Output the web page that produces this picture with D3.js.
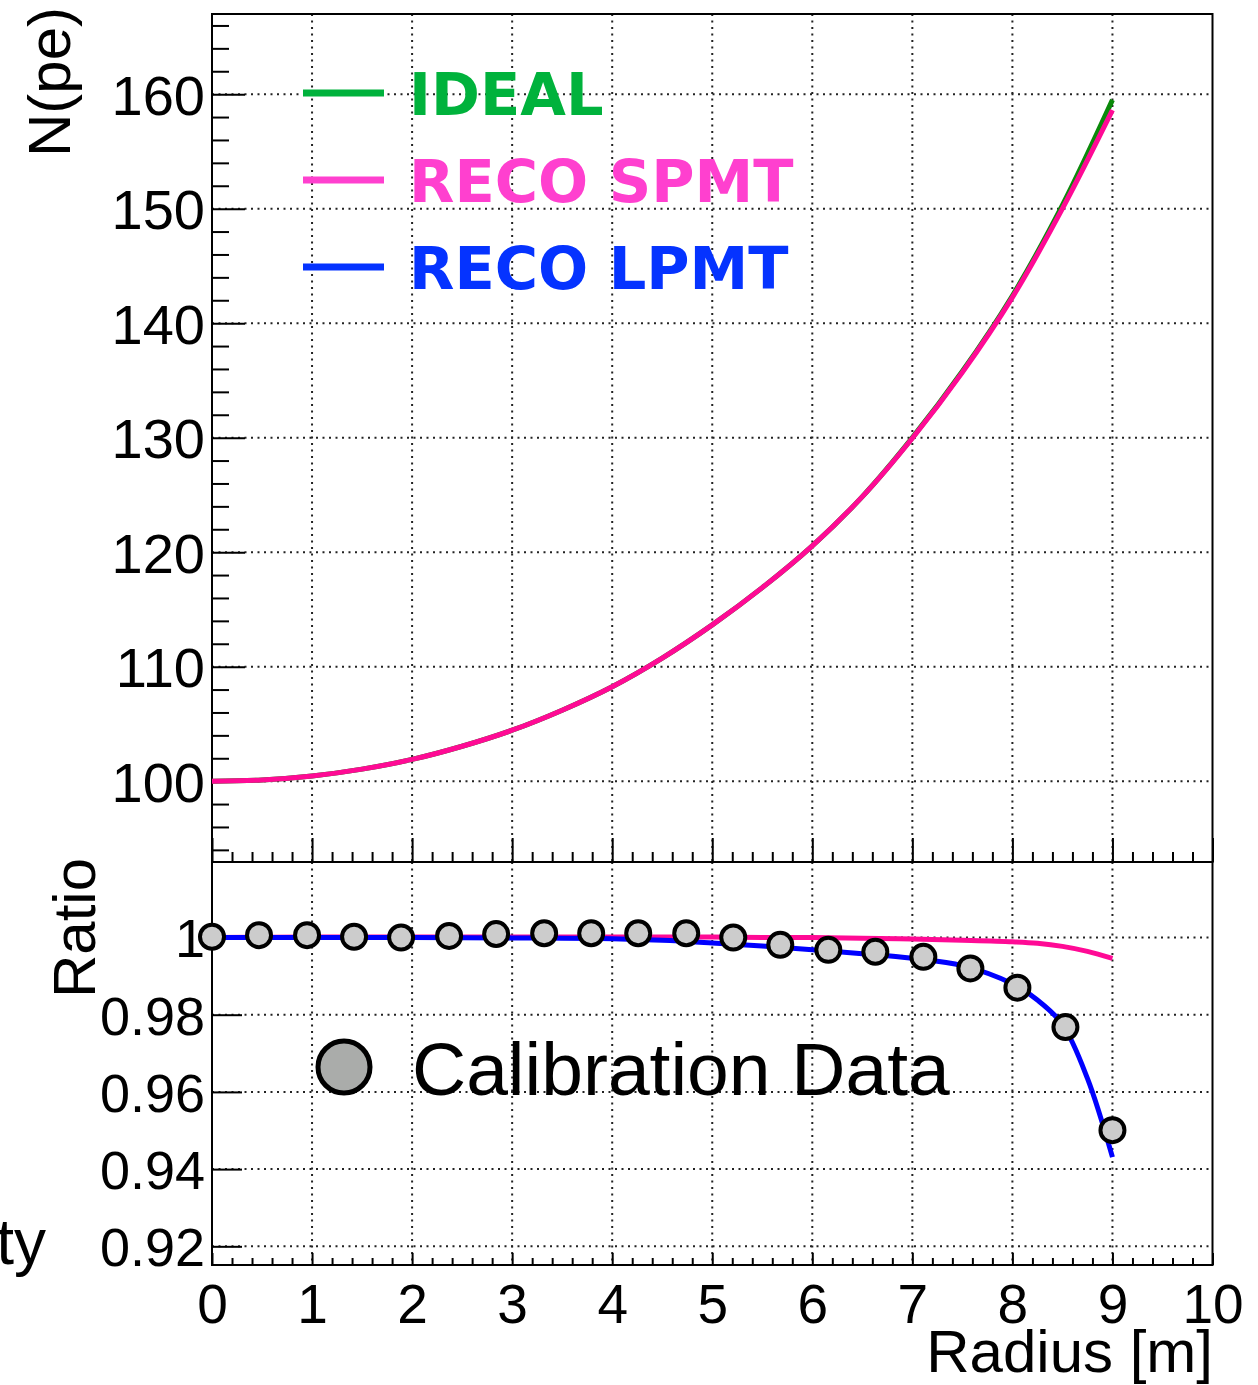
<!DOCTYPE html>
<html><head><meta charset="utf-8">
<script src="https://cdn.jsdelivr.net/npm/d3@7"></script>
<style>
html,body{margin:0;padding:0;background:#fff;}
svg{display:block;}
text{font-family:"Liberation Sans",Arial,Helvetica,sans-serif;}
</style></head>
<body>
<script>
// ---------- data ----------
const radius = [0,0.5,1,1.5,2,2.5,3,3.5,4,4.5,5,5.5,6,6.5,7,7.5,8,8.5,9];
const npeIdeal = [100.0,100.1,100.45,101.05,101.9,103.05,104.45,106.2,108.25,110.75,113.65,116.9,120.55,124.85,130.0,135.8,142.4,150.3,159.5];
const npeSpmt  = [100.0,100.1,100.45,101.05,101.9,103.05,104.45,106.2,108.25,110.75,113.65,116.9,120.55,124.85,129.95,135.7,142.25,150.0,158.6];

const ratioRadius = [0,1,2,3,4,4.5,5,5.5,6,6.5,7,7.5,8,8.25,8.5,8.75,9];
const ratioLpmt = [1.0000,1.0000,1.0000,0.9999,0.9997,0.9993,0.9986,0.9978,0.9968,0.9958,0.9946,0.9927,0.9880,0.9838,0.9775,0.9635,0.9431];
const ratioSpmt = [1.0000,1.0001,1.0001,1.0001,1.0001,1.0001,1.0001,1.0000,1.0000,0.9998,0.9996,0.9993,0.9989,0.9985,0.9977,0.9964,0.9946];

const calRadius = [0,0.47,0.95,1.42,1.89,2.37,2.84,3.32,3.79,4.26,4.74,5.21,5.68,6.16,6.63,7.11,7.58,8.05,8.53,9.0];
const calRatio  = [1.0002,1.0006,1.0006,1.0002,1.0000,1.0004,1.0009,1.0011,1.0011,1.0011,1.0011,1.0000,0.9981,0.9968,0.9963,0.9950,0.9920,0.9870,0.9768,0.9501];

const xTicks = [0,1,2,3,4,5,6,7,8,9,10];
const topYTicks = [100,110,120,130,140,150,160];
const botYTicks = [0.92,0.94,0.96,0.98,1];
const legendLabels = ["IDEAL","RECO SPMT","RECO LPMT"];
const legendColors = ["#00b23c","#ff40cf","#0533ff"];
const curveColors = {ideal:"#0a8a0a", spmt:"#ff0a95", lpmt:"#0000ff"};

// ---------- layout ----------
const W = 1258, H = 1385;
const L = 212, R = 1212.5;
const topT = 14, topB = 862, botB = 1265;

const svg = d3.select("body").append("svg").attr("width",W).attr("height",H);

const x = d3.scaleLinear().domain([0,10]).range([L,R]);
const yTop = d3.scaleLinear().domain([92.94,167.0]).range([topB,topT]);
const yBot = d3.scaleLinear().domain([0.91516,1.01956]).range([botB,topB]);

const minorX = d3.range(0,10.001,0.2).filter(v=>Math.abs(v-Math.round(v))>1e-6);
const minorTopY = d3.range(94,167,2).filter(v=>v%10!==0);

// ---------- grids ----------
const grid = svg.append("g").attr("stroke","#222").attr("stroke-width",2).attr("stroke-dasharray","2,4.5");
xTicks.slice(1,10).forEach(v=>{
  grid.append("line").attr("x1",x(v)).attr("x2",x(v)).attr("y1",topT).attr("y2",topB);
  grid.append("line").attr("x1",x(v)).attr("x2",x(v)).attr("y1",topB).attr("y2",botB);
});
topYTicks.forEach(v=>grid.append("line").attr("x1",L).attr("x2",R).attr("y1",yTop(v)).attr("y2",yTop(v)));
botYTicks.forEach(v=>grid.append("line").attr("x1",L).attr("x2",R).attr("y1",yBot(v)).attr("y2",yBot(v)));

// ---------- axes ----------
function styleAxis(g){ g.select(".domain").remove(); g.selectAll(".tick line").attr("stroke","#000").attr("stroke-width",2); g.selectAll("text").attr("fill","#000").style("font-family","'Liberation Sans',Arial,sans-serif"); }

// top panel y
svg.append("g").attr("transform",`translate(${L},0)`)
  .call(d3.axisLeft(yTop).tickValues(minorTopY).tickSize(-17).tickFormat(""))
  .call(styleAxis);
svg.append("g").attr("transform",`translate(${L},0)`)
  .call(d3.axisLeft(yTop).tickValues(topYTicks).tickSize(-33).tickPadding(7).tickFormat(d3.format("d")))
  .call(styleAxis)
  .call(g=>g.selectAll("text").attr("font-size",56).attr("dy","0.36em"));
// top panel x ticks (no labels)
svg.append("g").attr("transform",`translate(0,${topB})`)
  .call(d3.axisBottom(x).tickValues(minorX).tickSize(-10).tickFormat(""))
  .call(styleAxis);
svg.append("g").attr("transform",`translate(0,${topB})`)
  .call(d3.axisBottom(x).tickValues(xTicks).tickSize(-24).tickFormat(""))
  .call(styleAxis);

// bottom panel y
svg.append("g").attr("transform",`translate(${L},0)`)
  .call(d3.axisLeft(yBot).tickValues(botYTicks).tickSize(-30).tickPadding(7).tickFormat(d=>d===1?"1":d3.format(".2f")(d)))
  .call(styleAxis)
  .call(g=>g.selectAll("text").attr("font-size",54).attr("dy","0.36em"));
// bottom panel x
svg.append("g").attr("transform",`translate(0,${botB})`)
  .call(d3.axisBottom(x).tickValues(minorX).tickSize(-7).tickFormat(""))
  .call(styleAxis);
svg.append("g").attr("transform",`translate(0,${botB})`)
  .call(d3.axisBottom(x).tickValues(xTicks).tickSize(-12).tickFormat(d3.format("d")))
  .call(styleAxis)
  .call(g=>g.selectAll("text").attr("font-size",55).attr("dy",null).attr("y",58));

// frames
svg.append("rect").attr("x",L).attr("y",topT).attr("width",R-L).attr("height",topB-topT)
  .attr("fill","none").attr("stroke","#000").attr("stroke-width",2);
svg.append("rect").attr("x",L).attr("y",topB).attr("width",R-L).attr("height",botB-topB)
  .attr("fill","none").attr("stroke","#000").attr("stroke-width",2);

// ---------- top curves ----------
const lineTop = d3.line().x(d=>x(d[0])).y(d=>yTop(d[1])).curve(d3.curveCatmullRom);
svg.append("path").datum(radius.map((r,i)=>[r,npeIdeal[i]])).attr("d",lineTop)
  .attr("fill","none").attr("stroke",curveColors.ideal).attr("stroke-width",5);
svg.append("path").datum(radius.map((r,i)=>[r,npeSpmt[i]])).attr("d",lineTop)
  .attr("fill","none").attr("stroke",curveColors.spmt).attr("stroke-width",5);

// top legend
const legY = [93,180,267];
legendLabels.forEach((lab,i)=>{
  svg.append("line").attr("x1",303).attr("x2",384).attr("y1",legY[i]).attr("y2",legY[i])
    .attr("stroke",legendColors[i]).attr("stroke-width",7);
  svg.append("text").attr("x",409).attr("y",legY[i]+22).text(lab)
    .attr("fill",legendColors[i]).attr("font-size",59).attr("font-weight","bold")
    .style("font-family","'DejaVu Sans',sans-serif");
});

// ---------- bottom curves ----------
const lineBot = d3.line().x(d=>x(d[0])).y(d=>yBot(d[1])).curve(d3.curveCatmullRom);
svg.append("path").datum(ratioRadius.map((r,i)=>[r,ratioSpmt[i]])).attr("d",lineBot)
  .attr("fill","none").attr("stroke",curveColors.spmt).attr("stroke-width",5);
svg.append("path").datum(ratioRadius.map((r,i)=>[r,ratioLpmt[i]])).attr("d",lineBot)
  .attr("fill","none").attr("stroke",curveColors.lpmt).attr("stroke-width",5);

// calibration points
svg.append("g").selectAll("circle").data(calRadius.map((r,i)=>[r,calRatio[i]])).join("circle")
  .attr("cx",d=>x(d[0])).attr("cy",d=>yBot(d[1])).attr("r",12)
  .attr("fill","#cccccc").attr("stroke","#000").attr("stroke-width",4);

// bottom legend
svg.append("circle").attr("cx",344).attr("cy",1067).attr("r",26)
  .attr("fill","#aaacaa").attr("stroke","#000").attr("stroke-width",5);
svg.append("text").attr("x",412).attr("y",1095).attr("font-size",75).attr("fill","#000")
  .text("Calibration Data");

// ---------- axis titles ----------
svg.append("text").attr("transform","translate(70,157) rotate(-90)").attr("font-size",60).attr("fill","#000").text("N(pe)");
svg.append("text").attr("transform","translate(95,998) rotate(-90)").attr("font-size",60).attr("fill","#000").text("Ratio");
svg.append("text").attr("x",1213).attr("y",1372).attr("text-anchor","end").attr("font-size",60).attr("fill","#000").text("Radius [m]");
svg.append("text").attr("x",46).attr("y",1264).attr("text-anchor","end").attr("font-size",64).attr("fill","#000").text("ty");
</script>
</body></html>
